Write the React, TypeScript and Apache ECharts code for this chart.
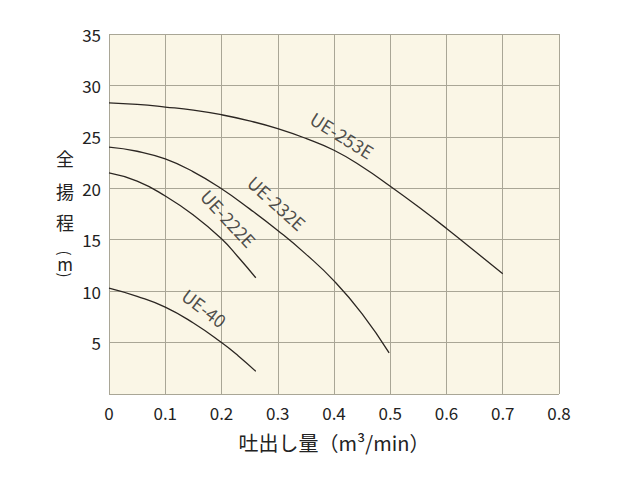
import React, { useEffect, useRef } from "react";
import * as echarts from "echarts";

const ue253eX = [0, 0.05, 0.1, 0.15, 0.2, 0.25, 0.3, 0.35, 0.4, 0.45, 0.5, 0.55, 0.6, 0.65, 0.7];
const ue253eY = [28.3, 28.15, 27.9, 27.6, 27.15, 26.55, 25.8, 24.85, 23.7, 22.1, 20.2, 18.2, 16.1, 13.9, 11.7];

const ue232eX = [0, 0.05, 0.1, 0.15, 0.2, 0.25, 0.3, 0.35, 0.4, 0.45, 0.498];
const ue232eY = [24.0, 23.6, 22.85, 21.6, 19.95, 18.0, 15.9, 13.6, 11.0, 7.8, 4.0];

const ue222eX = [0, 0.05, 0.1, 0.15, 0.2, 0.23, 0.261];
const ue222eY = [21.5, 20.7, 19.25, 17.4, 15.1, 13.3, 11.3];

const ue40X = [0, 0.05, 0.1, 0.15, 0.2, 0.23, 0.261];
const ue40Y = [10.3, 9.5, 8.45, 6.9, 5.0, 3.7, 2.2];

const labelNames = ["UE-253E", "UE-232E", "UE-222E", "UE-40"];
const labelX = [0.415, 0.299, 0.213, 0.17];
const labelY = [25.2, 18.6, 17.1, 8.4];
const labelRot = [-32, -42, -47, -37];

const yNameChars = ["全", "揚", "程", "(", "m", ")"];

const zip = (xs: number[], ys: number[]) => xs.map((x, i) => [x, ys[i]]);

export default function App() {
  const ref = useRef<HTMLDivElement>(null);
  useEffect(() => {
    if (!ref.current) return;
    const chart = echarts.init(ref.current, null, { renderer: "svg" });
    const font = "'Noto Sans CJK JP', 'Noto Sans', sans-serif";
    const lineColor = "#2b2622";
    const curve = (name: string, xs: number[], ys: number[]) => ({
      type: "line",
      name,
      data: zip(xs, ys),
      smooth: 0.5,
      symbol: "none",
      lineStyle: { color: lineColor, width: 1.3 },
    });
    const charY = [158, 191, 222, 253, 263, 275];
    chart.setOption({
      animation: false,
      grid: {
        left: 109,
        top: 34,
        right: 81,
        bottom: 86,
        show: true,
        backgroundColor: "#faf6e6",
        borderWidth: 0,
      },
      xAxis: {
        type: "value",
        min: 0,
        max: 0.8,
        interval: 0.1,
        axisLine: { show: false },
        axisTick: { show: false },
        splitLine: { show: true, lineStyle: { color: "#a9a696", width: 1 } },
        axisLabel: {
          color: "#222",
          fontSize: 17,
          fontFamily: font,
          margin: 10,
          formatter: (v: number) => (v === 0 ? "0" : String(Math.round(v * 10) / 10)),
        },
        name: "吐出し量（m³/min）",
        nameLocation: "middle",
        nameGap: 38,
        nameTextStyle: { color: "#222", fontSize: 20, fontFamily: font },
      },
      yAxis: {
        type: "value",
        min: 0,
        max: 35,
        interval: 5,
        axisLine: { show: false },
        axisTick: { show: false },
        splitLine: { show: true, lineStyle: { color: "#a9a696", width: 1 } },
        axisLabel: {
          color: "#222",
          fontSize: 17,
          fontFamily: font,
          margin: 8,
          formatter: (v: number) => (v === 0 ? "" : String(v)),
        },
      },
      graphic: yNameChars.map((c, i) => {
        const paren = c === "(" || c === ")";
        return {
          type: "text",
          x: 65,
          y: charY[i],
          rotation: paren ? -Math.PI / 2 : 0,
          style: {
            text: c,
            fontSize: paren ? 15 : c === "m" ? 17 : 18,
            fontFamily: font,
            fill: "#222",
            align: "center",
            verticalAlign: "middle",
          },
        };
      }),
      series: [
        curve("UE-253E", ue253eX, ue253eY),
        curve("UE-232E", ue232eX, ue232eY),
        curve("UE-222E", ue222eX, ue222eY),
        curve("UE-40", ue40X, ue40Y),
        {
          type: "scatter",
          symbolSize: 0,
          silent: true,
          data: labelNames.map((n, i) => ({
            value: [labelX[i], labelY[i]],
            label: {
              show: true,
              position: "inside",
              formatter: n,
              rotate: labelRot[i],
              color: "#222",
              fontSize: 18,
              fontFamily: font,
            },
          })),
        },
      ],
    });
    return () => chart.dispose();
  }, []);
  return (
    <div
      ref={ref}
      style={{ position: "absolute", left: 0, top: 0, width: 640, height: 480 }}
    />
  );
}
